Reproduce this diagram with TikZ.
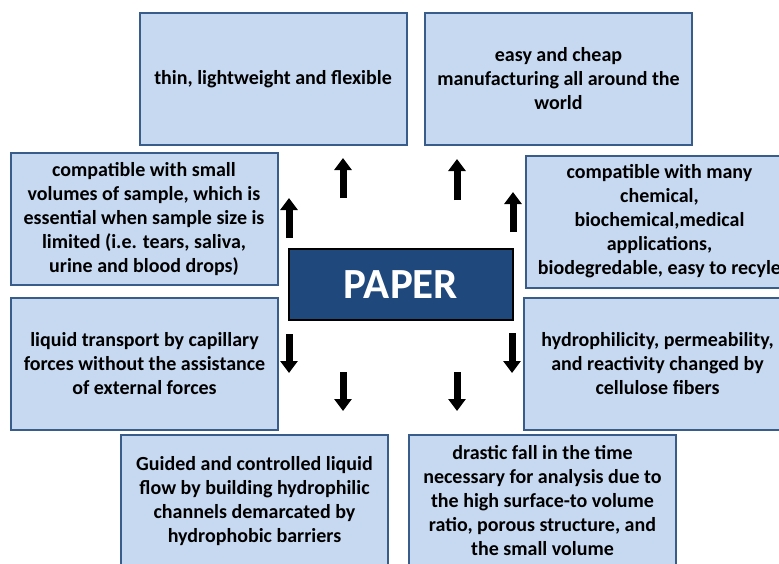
\documentclass[tikz,border=0pt]{standalone}
\usepackage{fontspec}
\setmainfont{Carlito}
\usetikzlibrary{arrows.meta}
\definecolor{boxfill}{RGB}{198,217,241}
\definecolor{boxline}{RGB}{56,93,138}
\definecolor{paperblue}{RGB}{31,73,125}
\tikzstyle{prop}=[draw=boxline,fill=boxfill,line width=2pt,minimum width=267pt,minimum height=132pt,inner sep=2pt,align=center,font=\bfseries\fontsize{20}{24}\selectfont]
\tikzstyle{center}=[draw=black,fill=paperblue,line width=2pt,minimum width=224pt,minimum height=71pt,text=white,font=\bfseries\fontsize{43}{50}\selectfont]
\tikzstyle{arrow}=[-{Triangle[width=17pt,length=12pt]},line width=7pt]

\begin{document}
\begin{tikzpicture}[x=1pt,y=-1pt]
      \useasboundingbox (0,0) rectangle (779,563);
      \clip (0,0) rectangle (779,563);
      \node[center] at (401,284.5) (paper) {PAPER};
      \node[prop] at (273,79) (thin) {thin, lightweight and flexible};
      \node[prop] at (558.5,79) (cheap) {easy and cheap\\manufacturing all around the\\world};
      \node[prop] at (144,219) (small) {compatible with small\\volumes of sample, which is\\essential when sample size is\\limited (i.e. tears, saliva,\\urine and blood drops)};
      \node[prop] at (659.5,221.5) (chem) {compatible with many\\chemical,\\biochemical,medical\\applications,\\biodegredable, easy to recyle};
      \node[prop] at (144.5,363.5) (capillary) {liquid transport by capillary\\forces without the assistance\\of external forces};
      \node[prop] at (657.5,363.5) (fibers) {hydrophilicity, permeability,\\and reactivity changed by\\cellulose fibers};
      \node[prop] at (254.5,501) (channels) {Guided and controlled liquid\\flow by building hydrophilic\\channels demarcated by\\hydrophobic barriers};
      \node[prop] at (542.5,501) (time) {drastic fall in the time\\necessary for analysis due to\\the high surface-to volume\\ratio, porous structure, and\\the small volume};
      \coordinate (thin0) at (343,198);
      \coordinate (thin1) at (343,158);
      \coordinate (cheap0) at (457,200);
      \coordinate (cheap1) at (457,159);
      \coordinate (small0) at (289,238);
      \coordinate (small1) at (289,198);
      \coordinate (chem0) at (513,232);
      \coordinate (chem1) at (513,192);
      \coordinate (capillary0) at (289,334);
      \coordinate (capillary1) at (289,373);
      \coordinate (fibers0) at (512,333);
      \coordinate (fibers1) at (512,373);
      \coordinate (channels0) at (343,372);
      \coordinate (channels1) at (343,411);
      \coordinate (time0) at (457,372);
      \coordinate (time1) at (457,411);
      \draw[arrow] (thin0)--(thin1);
      \draw[arrow] (cheap0)--(cheap1);
      \draw[arrow] (small0)--(small1);
      \draw[arrow] (chem0)--(chem1);
      \draw[arrow] (capillary0)--(capillary1);
      \draw[arrow] (fibers0)--(fibers1);
      \draw[arrow] (channels0)--(channels1);
      \draw[arrow] (time0)--(time1);
    \end{tikzpicture}
\end{document}
